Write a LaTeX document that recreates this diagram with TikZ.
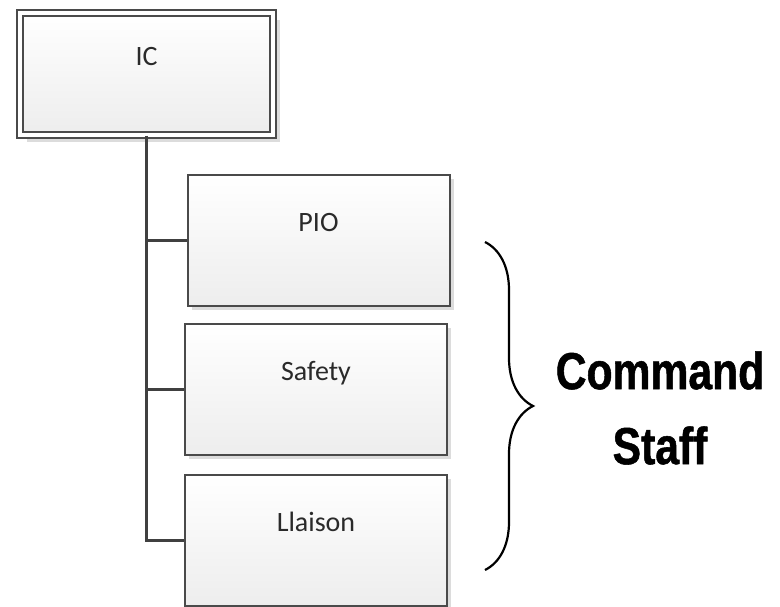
\documentclass[tikz,border=0pt]{standalone}
\usepackage{fontspec}
\usepackage{tikz}
\usetikzlibrary{shadows,decorations.pathreplacing}
\newfontfamily\boxfont{Carlito}
\newfontfamily\stafffont[FakeStretch=0.82, BoldFeatures={FakeStretch=0.82, FakeBold=1}]{Liberation Sans}
\definecolor{edge}{HTML}{4A4A4A}
\definecolor{trunkc}{HTML}{404040}
\definecolor{boxbot}{HTML}{EDEDED}
\definecolor{shade}{HTML}{DCDCDC}
\definecolor{txt}{HTML}{2A2A2A}
\tikzset{
  unit/.style={rectangle, draw=edge, line width=2pt, top color=white, bottom color=boxbot,
    minimum width=262pt, minimum height=131pt, inner sep=0pt,
    drop shadow={shadow xshift=4pt, shadow yshift=-4pt, fill=shade, opacity=1}},
  chief/.style={unit, double=white, double distance=4pt, line width=2pt,
    minimum width=253pt, minimum height=122pt,
    drop shadow={shadow xshift=7pt, shadow yshift=-7pt, fill=shade, opacity=1}},
  boxtext/.style={font=\boxfont\fontsize{28}{34}\selectfont, text=txt, inner sep=0pt, anchor=base},
  trunk/.style={trunkc, line width=3pt},
  stub/.style={trunkc, line width=2.2pt},
  staffbrace/.style={decorate, decoration={brace, amplitude=48pt}, line width=2.2pt},
}
\begin{document}
\begin{tikzpicture}[x=1pt, y=-1pt]
  \path[use as bounding box, fill=white] (0,0) rectangle (780,606);
  % incident commander and the three staff positions below it
  \node[chief, label={[boxtext, yshift=-54pt]north:IC}] (ic) at (146.5,73.5) {};
  \node[unit, label={[boxtext, yshift=-57pt]north:PIO}] (pio) at (318.5,240.5) {};
  \node[unit, label={[boxtext, yshift=-57pt]north:Safety}] (safety) at (316,389.5) {};
  \node[unit, label={[boxtext, yshift=-57pt]north:Llaison}] (llaison) at (316,540.5) {};
  % reporting lines
  \draw[stub] (ic.south |- pio.west) -- (pio.west);
  \draw[stub] (ic.south |- safety.west) -- (safety.west);
  \draw[trunk] (ic.south) |- (llaison.west);
  % brace and caption
  \coordinate (btop) at (485,242);
  \coordinate (bbot) at (485,570);
  \draw[staffbrace] (btop) -- (bbot);
  \node[font=\stafffont\bfseries\fontsize{52}{75}\selectfont, align=center, inner sep=0pt]
    (staff) at (660,408) {Command\\Staff};
\end{tikzpicture}
\end{document}
